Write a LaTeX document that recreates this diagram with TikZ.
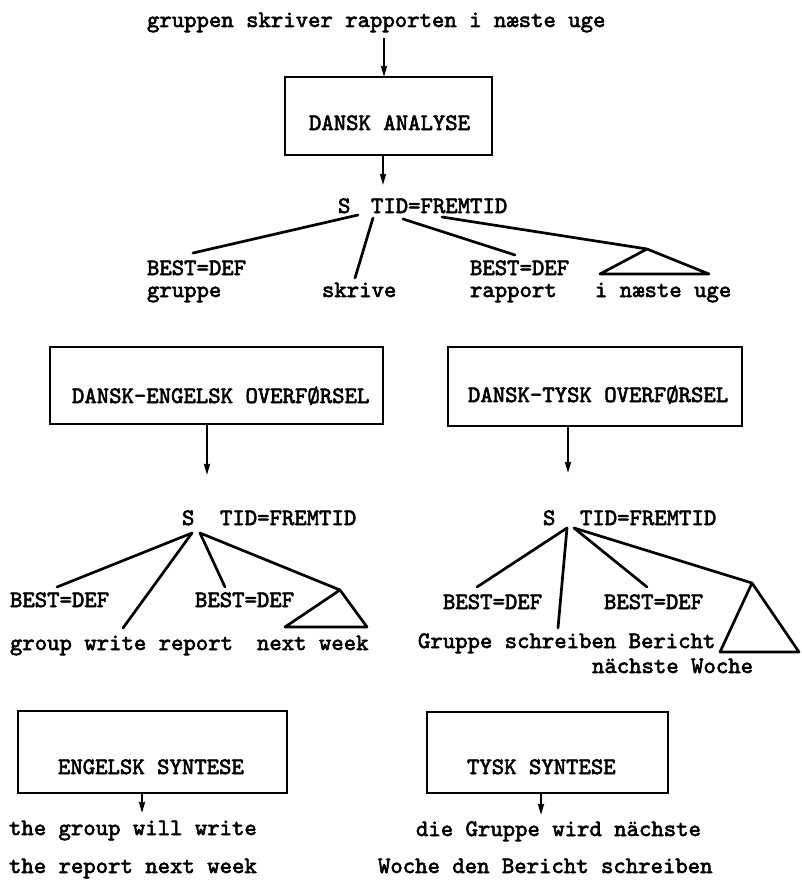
\documentclass[tikz,border=0pt]{standalone}
\usepackage{fontspec}
\newfontfamily\tw[FakeBold=2.5]{lmmono10-regular.otf}
\usetikzlibrary{arrows.meta}
\tikzset{
  txt/.style={inner sep=0pt, outer sep=0pt, anchor=base west, font=\tw\fontsize{23.6}{28}\selectfont},
  boxnode/.style={draw, line width=2.2pt, inner sep=0pt, outer sep=0pt},
  arr/.style={line width=2.2pt, -{Stealth[length=11pt,width=6pt,inset=1pt]}},
  br/.style={line width=2.7pt, line cap=round, line join=round}
}
\begin{document}
\begin{tikzpicture}[x=1pt,y=-1pt]
\useasboundingbox (0,0) rectangle (801,880);
% top sentence and analysis box
\node[txt] (top) at (147,27) {gruppen skriver rapporten i næste uge};
\node[boxnode, minimum width=207pt, minimum height=78pt] (b1) at (388.5,116) {};
\node[txt] (b1t) at (309,130) {DANSK ANALYSE};
\coordinate (a1) at (384,38);
\draw[arr] (a1) -- (a1 |- b1.north);
\coordinate (a2) at (383,185);
\draw[arr] (a2 |- b1.south) -- (a2);
% tree 1
\node[txt] (s1) at (338,213) {S};
\node[txt] (t1) at (371,213) {TID=FREMTID};
\node[txt] (d1a) at (147,275) {BEST=DEF};
\node[txt] (w1a) at (147,297) {gruppe};
\node[txt] (w1b) at (322,297) {skrive};
\node[txt] (d1c) at (470,275) {BEST=DEF};
\node[txt] (w1c) at (470,297) {rapport};
\node[txt] (w1d) at (595,297) {i næste uge};
\coordinate (r1a) at (358,215); \coordinate (e1a) at (193,253);
\coordinate (r1b) at (373,218); \coordinate (e1b) at (355,278);
\coordinate (r1c) at (403,219); \coordinate (e1c) at (515,255);
\coordinate (r1d) at (442,217); \coordinate (p1) at (647,249);
\coordinate (p1l) at (600,274); \coordinate (p1r) at (709,274);
\draw[br] (r1a) -- (e1a);
\draw[br] (r1b) -- (e1b);
\draw[br] (r1c) -- (e1c);
\draw[br] (r1d) -- (p1) -- (p1r) -- (p1l) -- (p1);
% transfer boxes
\node[boxnode, minimum width=333pt, minimum height=77pt] (b2) at (216.5,385.5) {};
\node[txt] (b2t) at (72,403) {DANSK-ENGELSK OVERFØRSEL};
\node[boxnode, minimum width=294pt, minimum height=79pt] (b3) at (595,386.5) {};
\node[txt] (b3t) at (468,402) {DANSK-TYSK OVERFØRSEL};
\coordinate (a3) at (207,475);
\draw[arr] (a3 |- b2.south) -- (a3);
\coordinate (a4) at (568,473);
\draw[arr] (a4 |- b3.south) -- (a4);
% tree 2 (English)
\node[txt] (s2) at (182,525) {S};
\node[txt] (t2) at (220,525) {TID=FREMTID};
\node[txt] (d2a) at (10,607) {BEST=DEF};
\node[txt] (d2c) at (195,607) {BEST=DEF};
\node[txt] (w2a) at (10,650) {group write report};
\node[txt] (w2d) at (257,650) {next week};
\coordinate (r2a) at (192,533); \coordinate (r2b) at (200,533);
\coordinate (e2a) at (57,587); \coordinate (e2b) at (123,628);
\coordinate (e2c) at (225,587); \coordinate (p2) at (340,590);
\coordinate (p2l) at (285,627); \coordinate (p2r) at (367,627);
\draw[br] (r2a) -- (e2a);
\draw[br] (r2a) -- (e2b);
\draw[br] (r2b) -- (e2c);
\draw[br] (r2b) -- (p2) -- (p2r) -- (p2l) -- (p2);
% tree 3 (German)
\node[txt] (s3) at (543,525) {S};
\node[txt] (t3) at (580,525) {TID=FREMTID};
\node[txt] (d3a) at (443,609) {BEST=DEF};
\node[txt] (d3c) at (604,609) {BEST=DEF};
\node[txt] (w3a) at (418,648) {Gruppe schreiben Bericht};
\node[txt] (w3d) at (592,673) {nächste Woche};
\coordinate (r3a) at (567,528); \coordinate (r3b) at (574,528);
\coordinate (e3a) at (477,587); \coordinate (e3b) at (558,628);
\coordinate (e3c) at (647,587); \coordinate (p3) at (752,583);
\coordinate (p3l) at (720,652); \coordinate (p3r) at (799,652);
\draw[br] (r3a) -- (e3a);
\draw[br] (r3a) -- (e3b);
\draw[br] (r3b) -- (e3c);
\draw[br] (r3b) -- (p3) -- (p3r) -- (p3l) -- (p3);
% synthesis boxes
\node[boxnode, minimum width=269pt, minimum height=82pt] (b4) at (152.5,752) {};
\node[txt] (b4t) at (58,774) {ENGELSK SYNTESE};
\node[boxnode, minimum width=241pt, minimum height=81pt] (b5) at (547.5,752.5) {};
\node[txt] (b5t) at (467,774) {TYSK SYNTESE};
\coordinate (a5) at (142,813);
\draw[arr] (a5 |- b4.south) -- (a5);
\coordinate (a6) at (541,815);
\draw[arr] (a6 |- b5.south) -- (a6);
% outputs
\node[txt] (o1) at (9,835) {the group will write};
\node[txt] (o2) at (9,873) {the report next week};
\node[txt] (o3) at (416,836) {die Gruppe wird nächste};
\node[txt] (o4) at (378,873) {Woche den Bericht schreiben};
\end{tikzpicture}
\end{document}
